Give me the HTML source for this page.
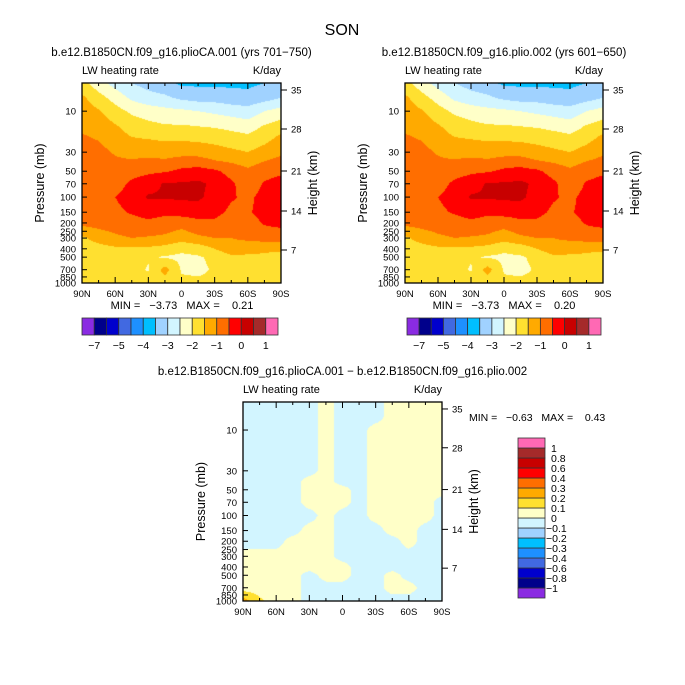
<!DOCTYPE html>
<html><head><meta charset="utf-8">
<style>
html,body{margin:0;padding:0;background:#fff}
#root{position:relative;width:685px;height:685px;overflow:hidden;font-family:"Liberation Sans","DejaVu Sans",sans-serif;color:#000}
canvas{position:absolute;image-rendering:auto}
svg{position:absolute;left:0;top:0}
text{font-family:"Liberation Sans","DejaVu Sans",sans-serif;white-space:pre}
</style></head>
<body><div id="root">
<canvas id="c1" width="199" height="200" style="left:82px;top:83px"></canvas>
<canvas id="c2" width="198" height="200" style="left:405px;top:83px"></canvas>
<canvas id="c3" width="199" height="199" style="left:243px;top:402px"></canvas>
<svg id="s" width="685" height="685"></svg>
</div>
<script>
// ---- data ----
const lats = [90,75,60,45,30,15,0,-15,-30,-45,-60,-75,-90];
const pLevels = [4.7,7,10,15,20,30,40,50,70,100,150,200,300,400,500,700,1000];
// rows = pressure levels, cols = latitudes (90N..90S), K/day
const fieldA = [
[-1.8,-2.3,-2.7,-3.0,-3.2,-3.35,-3.6,-3.6,-3.6,-3.6,-3.6,-3.5,-3.4],
[-1.4,-1.8,-2.2,-2.6,-2.8,-2.9,-3.1,-3.2,-3.2,-3.3,-3.35,-3.2,-3.0],
[-1.25,-1.45,-1.8,-2.1,-2.25,-2.35,-2.4,-2.5,-2.6,-2.7,-2.8,-2.5,-2.3],
[-1.1,-1.2,-1.45,-1.7,-1.85,-1.95,-1.95,-2.0,-2.05,-2.15,-2.25,-1.95,-1.75],
[-0.95,-1.05,-1.3,-1.5,-1.55,-1.6,-1.6,-1.65,-1.7,-1.8,-1.9,-1.7,-1.4],
[-0.8,-0.85,-1.05,-1.2,-1.2,-1.25,-1.2,-1.2,-1.3,-1.4,-1.5,-1.3,-1.1],
[-0.7,-0.8,-0.9,-0.9,-0.8,-0.85,-0.7,-0.7,-0.9,-1.0,-1.15,-0.95,-0.8],
[-0.7,-0.75,-0.8,-0.7,-0.6,-0.55,-0.4,-0.3,-0.4,-0.7,-0.9,-0.7,-0.6],
[-0.7,-0.7,-0.7,-0.4,-0.2,0.05,0.05,0.1,-0.1,-0.4,-0.8,-0.45,-0.3],
[-0.7,-0.6,-0.5,-0.3,0.05,0.05,0.08,0.1,-0.2,-0.45,-0.6,-0.35,-0.2],
[-0.75,-0.7,-0.6,-0.45,-0.3,-0.4,-0.3,-0.3,-0.35,-0.6,-0.55,-0.35,-0.2],
[-0.85,-0.8,-0.75,-0.7,-0.6,-0.7,-0.8,-0.6,-0.6,-0.8,-0.7,-0.45,-0.35],
[-1.6,-1.3,-1.1,-1.0,-1.05,-1.1,-1.3,-1.1,-1.0,-1.0,-0.9,-0.8,-0.8],
[-1.75,-1.7,-1.6,-1.6,-1.6,-1.7,-1.9,-1.8,-1.5,-1.2,-1.3,-1.4,-1.4],
[-1.9,-1.9,-1.8,-1.8,-1.95,-2.05,-2.1,-2.05,-1.9,-1.6,-1.6,-1.6,-1.7],
[-1.8,-1.8,-1.9,-1.8,-2.05,-1.3,-2.05,-2.1,-1.95,-1.8,-1.8,-1.7,-1.7],
[-1.8,-1.8,-1.7,-1.7,-1.7,-1.8,-1.9,-1.9,-1.9,-1.8,-1.8,-1.7,-1.6]];
const fieldB = fieldA.map(r=>r.slice());
const fieldDiff = [
[-0.05,-0.05,-0.05,-0.05,-0.05,0.05,-0.05,-0.05,-0.05,0.05,0.05,0.05,0.05],
[-0.05,-0.05,-0.05,-0.05,-0.05,0.05,-0.05,-0.05,-0.05,0.05,0.05,0.05,0.05],
[-0.05,-0.05,-0.05,-0.05,-0.05,0.05,-0.05,-0.05,0.05,0.05,0.05,0.05,0.05],
[-0.05,-0.05,-0.05,-0.05,-0.05,0.05,-0.05,-0.05,0.05,0.05,0.05,0.05,0.05],
[-0.05,-0.05,-0.05,-0.05,-0.05,0.05,-0.05,-0.05,0.05,0.05,0.05,0.05,0.05],
[-0.05,-0.05,-0.05,-0.05,-0.05,0.05,-0.05,-0.05,0.05,0.05,0.05,0.05,0.05],
[-0.05,-0.05,-0.05,-0.05,0.05,0.05,-0.05,-0.05,0.05,0.05,0.05,0.05,0.05],
[-0.05,-0.05,-0.05,-0.05,0.05,0.05,0.05,-0.05,0.05,0.05,0.05,0.05,0.05],
[-0.05,-0.05,-0.05,-0.05,0.05,0.05,0.05,-0.05,0.05,0.05,0.05,0.05,-0.05],
[-0.05,-0.05,-0.05,-0.05,-0.05,0.05,-0.05,-0.05,0.05,0.05,0.05,0.05,-0.05],
[-0.05,-0.05,-0.05,-0.05,0.05,0.05,-0.05,-0.05,-0.05,0.05,0.05,-0.05,-0.05],
[-0.05,-0.05,-0.05,0.05,0.05,0.05,-0.05,-0.05,-0.05,-0.05,0.05,-0.05,-0.05],
[0.05,0.05,0.05,0.05,0.05,0.05,-0.05,-0.05,-0.05,-0.05,-0.05,-0.05,-0.05],
[0.05,0.05,0.05,0.05,0.05,0.05,0.05,-0.05,-0.05,-0.05,-0.05,-0.05,-0.05],
[0.05,0.05,0.05,0.05,-0.05,0.05,0.05,-0.05,-0.05,0.05,-0.05,-0.05,-0.05],
[0.05,0.05,0.05,0.05,-0.05,-0.05,-0.05,-0.05,-0.05,0.05,0.05,-0.05,-0.05],
[0.25,0.12,0.05,0.05,-0.05,-0.05,-0.05,-0.05,-0.05,-0.05,-0.05,-0.05,-0.05]];
const colors = ["#8a2be2","#00008b","#0000cd","#4169e1","#1e90ff","#00bfff","#a0d2ff","#d2f5ff","#ffffc8","#ffe030","#ffaa00","#ff6e00","#ff0000","#c80000","#a52a2a","#ff69b4"];
const levelsA = [-7,-6,-5,-4.5,-4,-3.5,-3,-2.5,-2,-1.5,-1,-0.5,0,0.5,1];
const levelLabelsA = ["-7","-5","-4","-3","-2","-1","0","1"];
const levelsDiff = [-1,-0.8,-0.6,-0.4,-0.3,-0.2,-0.1,0,0.1,0.2,0.3,0.4,0.6,0.8,1];
const pTicks = [10,30,50,70,100,150,200,250,300,400,500,700,850,1000];
const hTicks = [35,28,21,14,7];
const hTickPos = [0.035,0.23,0.44,0.64,0.835];
const latTicks = ["90N","60N","30N","0","30S","60S","90S"];

// ---- axis functions ----
const pTop = 4.7, pBot = 1000;
function yFrac(p){return (Math.log10(p)-Math.log10(pTop))/(Math.log10(pBot)-Math.log10(pTop));}
function xFrac(lat){return (90-lat)/180;}
function pickColor(v,lv){let i=0;while(i<lv.length&&v>=lv[i])i++;return colors[i];}
function hex(c){return [parseInt(c.substr(1,2),16),parseInt(c.substr(3,2),16),parseInt(c.substr(5,2),16)];}
function sample(field,fx,fy){
  const lf=fx*(lats.length-1); let i=Math.min(Math.floor(lf),lats.length-2); const tx=lf-i;
  const ly=pLevels.map(yFrac); let j=0; while(j<ly.length-2&&fy>ly[j+1])j++;
  const ty=Math.max(0,Math.min(1,(fy-ly[j])/(ly[j+1]-ly[j])));
  const a=field[j][i],b=field[j][i+1],c=field[j+1][i],d=field[j+1][i+1];
  return (a*(1-tx)+b*tx)*(1-ty)+(c*(1-tx)+d*tx)*ty;
}
function drawField(id,field,lv){
  const cv=document.getElementById(id),ctx=cv.getContext('2d'),W=cv.width,H=cv.height;
  const img=ctx.createImageData(W,H);
  for(let y=0;y<H;y++)for(let x=0;x<W;x++){
    const v=sample(field,(x+0.5)/W,(y+0.5)/H); const c=hex(pickColor(v,lv)); const k=(y*W+x)*4;
    img.data[k]=c[0];img.data[k+1]=c[1];img.data[k+2]=c[2];img.data[k+3]=255;}
  ctx.putImageData(img,0,0);
}
drawField('c1',fieldA,levelsA);
drawField('c2',fieldB,levelsA);
drawField('c3',fieldDiff,levelsDiff);

const NS='http://www.w3.org/2000/svg', svg=document.getElementById('s');
function el(tag,attrs,txt){const e=document.createElementNS(NS,tag);for(const k in attrs)e.setAttribute(k,attrs[k]);if(txt!==undefined)e.textContent=txt;svg.appendChild(e);return e;}
function txt(x,y,s,size,anchor,name,extra){const t=el('text',Object.assign({x:x,y:y,'font-size':size,'text-anchor':anchor||'start'},extra||{}),s);
  
  
  return t;}

function panel(x0,y0,w,h,title,minmax,tag){
  const g=el('rect',{x:x0,y:y0,width:w,height:h,fill:'none',stroke:'#000','stroke-width':1.3});
  
  
  txt(x0+w/2,y0-27,title,11.5,'middle',tag+'-title');
  txt(x0,y0-9,'LW heating rate',11,'start',tag+'-variable-label');
  txt(x0+w,y0-9,'K/day',11,'end',tag+'-units-label');
  pTicks.forEach(p=>{const y=y0+yFrac(p)*h;
    const t=el('line',{x1:x0,x2:x0+5,y1:y,y2:y,stroke:'#000','stroke-width':1});
    
    
    txt(x0-6,y+3.5,String(p),9.5,'end','pressure-tick-label');});
  hTicks.forEach((hv,i)=>{const y=y0+hTickPos[i]*h;
    const t=el('line',{x1:x0+w,x2:x0+w+6,y1:y,y2:y,stroke:'#000','stroke-width':1});
    
    
    txt(x0+w+10,y+3.5,String(hv),9.5,'start','height-tick-label');});
  for(let i=0;i<=12;i++){const x=x0+i*w/12, len=i%2==0?6:3;
    [[y0,y0+len],[y0+h,y0+h-len]].forEach(a=>{const t=el('line',{x1:x,x2:x,y1:a[0],y2:a[1],stroke:'#000','stroke-width':1});
      
      });}
  latTicks.forEach((s,i)=>txt(x0+i*w/6,y0+h+14,s,9.5,'middle','latitude-tick-label'));
  txt(x0-38,y0+h/2,'Pressure (mb)',12.5,'middle','y-axis-title',{transform:`rotate(-90 ${x0-38} ${y0+h/2})`});
  txt(x0+w+36,y0+h/2,'Height (km)',12.5,'middle','y2-axis-title',{transform:`rotate(-90 ${x0+w+36} ${y0+h/2})`});
}
txt(342,35,'SON',16,'middle','main-title');
panel(82,83,199,200,'b.e12.B1850CN.f09_g16.plioCA.001 (yrs 701\u2212750)','',"left-panel");
panel(405,83,198,200,'b.e12.B1850CN.f09_g16.plio.002 (yrs 601\u2212650)','',"right-panel");
panel(243,402,199,199,'b.e12.B1850CN.f09_g16.plioCA.001 \u2212 b.e12.B1850CN.f09_g16.plio.002','',"diff-panel");
txt(182,309,'MIN =   \u22123.73   MAX =    0.21',11,'middle','left-min-max');
txt(504,309,'MIN =   \u22123.73   MAX =    0.20',11,'middle','right-min-max');
txt(469,421,'MIN =   \u22120.63   MAX =    0.43',10.5,'start','diff-min-max');

function hbar(x0,y0,w,h,name){
  const bw=w/colors.length;
  colors.forEach((c,i)=>{const r=el('rect',{x:x0+i*bw,y:y0,width:bw,height:h,fill:c,stroke:'#333','stroke-width':0.8});
    
    });
  levelLabelsA.forEach((s,k)=>txt(x0+(2*k+1)*bw,y0+h+14,s.replace('-','\u2212'),10.5,'middle',name+'-label'));
}
hbar(82,318,196,17,'left-colorbar');
hbar(407,318,194,17,'right-colorbar');
const vx=518,vy=438,vw=27,vh=160,bh=vh/colors.length;
colors.forEach((c,i)=>{const r=el('rect',{x:vx,y:vy+vh-(i+1)*bh,width:vw,height:bh,fill:c,stroke:'#333','stroke-width':0.8});
  
  });
levelsDiff.forEach((v,i)=>txt(vx+(v<0?28:33),vy+vh-(i+1)*bh+4,(v<0?'\u2212':'')+String(Math.abs(v)),10.5,'start','diff-colorbar-label'));
</script>
</body></html>
